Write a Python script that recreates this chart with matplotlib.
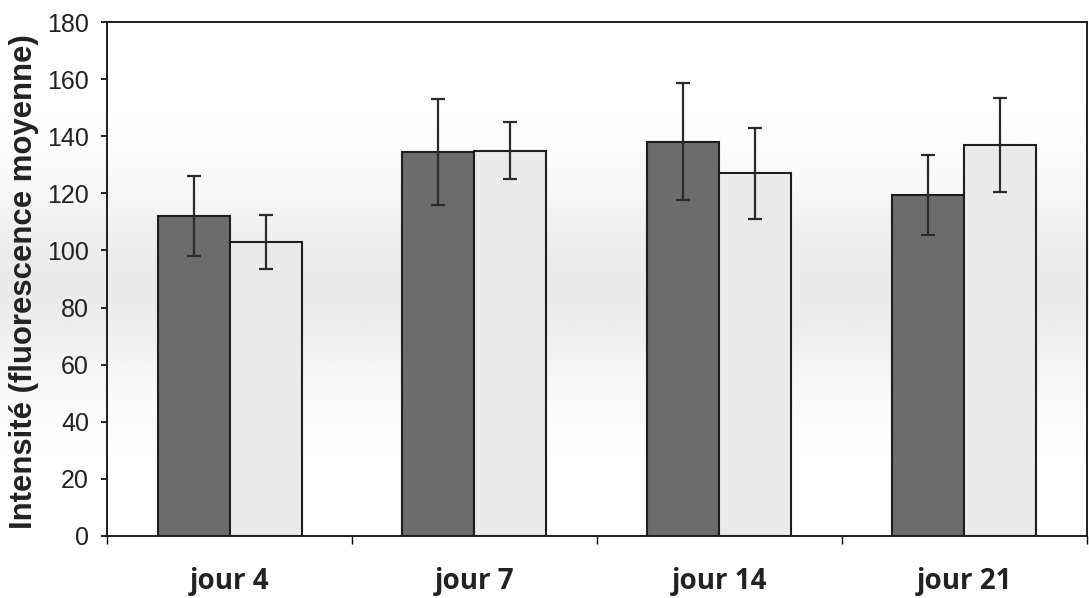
import numpy as np
import matplotlib.pyplot as plt

days = ["jour 4", "jour 7", "jour 14", "jour 21"]
dark_means = [112, 134.5, 138, 119.5]
dark_err = [14, 18.5, 20.5, 14]
light_means = [103, 135, 127, 137]
light_err = [9.5, 10, 16, 16.5]

fig = plt.figure(figsize=(10.89, 5.98), dpi=100)
fig.patch.set_facecolor("white")

# soft grey band across the page (scanner shading)
bg = fig.add_axes([0, 0, 1, 1], zorder=-10)
rows = np.linspace(0, 598, 300)
shade = 1 - 0.08 * np.exp(-((rows - 285) / 100.0) ** 2)
bg.imshow(np.tile(shade[:, None], (1, 10)), cmap="gray", vmin=0, vmax=1,
          aspect="auto", extent=[0, 1, 0, 1], interpolation="bilinear")
bg.axis("off")

ax = fig.add_axes([0.0983, 0.1037, 0.8997, 0.8595])
ax.patch.set_alpha(0)

x = np.arange(len(days))
w = 0.294
err_kw = dict(ecolor="#2b2b2b", elinewidth=1.6, capsize=5, capthick=1.6)

ax.bar(x - w / 2, dark_means, w, color="#6c6c6c", edgecolor="#1e1e1e",
       linewidth=1.5, yerr=dark_err, error_kw=err_kw)
ax.bar(x + w / 2, light_means, w, color="#ebebeb", edgecolor="#1e1e1e",
       linewidth=1.5, yerr=light_err, error_kw=err_kw)

ax.set_xlim(-0.5, 3.5)
ax.set_ylim(0, 180)
ax.set_yticks(range(0, 181, 20))
ax.set_xticks(np.arange(-0.5, 3.6, 1))
ax.set_xticklabels([])
ax.tick_params(axis="y", direction="out", length=4, width=1.2,
               labelsize=18, labelcolor="#222222", pad=9)
ax.tick_params(axis="x", direction="out", length=6, width=1.0)
for t in ax.get_yticklabels():
    t.set_family("Liberation Sans")

for i, d in enumerate(days):
    ax.text(i, -0.104, d, ha="center", va="baseline", fontsize=20,
            fontweight="bold", family="Open Sans", color="#222222",
            transform=ax.get_xaxis_transform())

for s in ax.spines.values():
    s.set_linewidth(1.4)
    s.set_color("#1e1e1e")

fig.text(24 / 1089, 1 - 282 / 598, "Intensité (fluorescence moyenne)",
         rotation=90, ha="center", va="center", fontsize=22.4,
         fontweight="bold", family="Liberation Sans", color="#222222")

plt.savefig("out.png", dpi=100)
